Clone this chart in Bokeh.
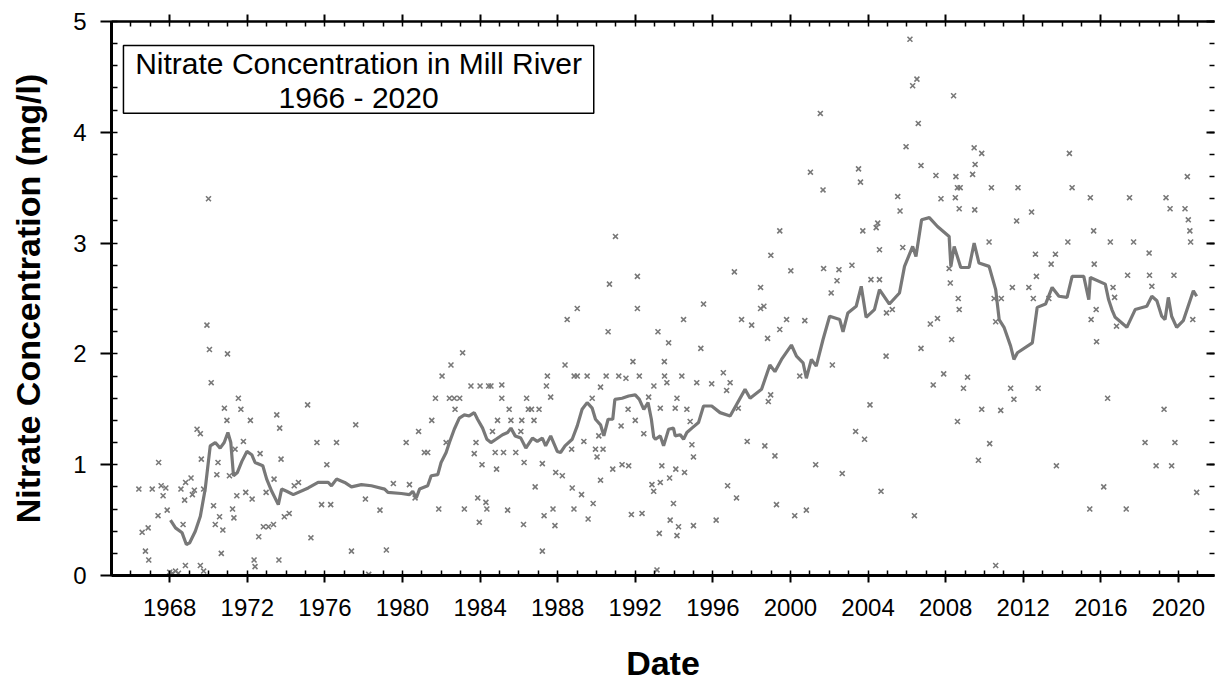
from bokeh.plotting import figure
from bokeh.models import (LinearAxis, SingleIntervalTicker, Range1d, Label, BoxAnnotation,
                          CustomLabelingPolicy)
from bokeh.embed import file_html
from bokeh.resources import INLINE

# ---------------- data ----------------
sample_year = [
    1970.00, 1969.92, 1970.05, 1970.98, 1970.14, 1971.54, 1970.82, 1971.67, 1970.95, 1972.16,
    1973.52, 1973.67, 1969.41, 1969.58, 1971.80, 1967.43, 1969.63, 1970.49, 1972.66, 1973.74,
    1970.43, 1971.08, 1971.37, 1966.41, 1967.10, 1967.56, 1967.80, 1967.66, 1968.58, 1968.82,
    1969.10, 1969.27, 1969.17, 1969.75, 1968.77, 1971.46, 1971.92, 1972.25, 1973.38, 1972.97,
    1974.42, 1974.64, 1970.26, 1967.40, 1967.87, 1968.69, 1970.57, 1970.74, 1970.35, 1971.24,
    1971.31, 1966.58, 1966.89, 1972.59, 1972.83, 1973.09, 1973.35, 1973.91, 1974.16, 1966.75,
    1966.92, 1970.66, 1968.81, 1969.58, 1972.35, 1972.40, 1973.63, 1968.00, 1968.15, 1968.30,
    1968.45, 1969.75, 1978.26,
    1975.11, 1977.59, 1975.59, 1976.60, 1976.10, 1975.83, 1976.30, 1978.09, 1978.84, 1975.28,
    1977.37, 1979.17, 1979.53, 1980.36, 1980.65, 1980.19, 1980.83, 1981.13, 1981.30, 1981.51,
    1981.70, 1982.04, 1982.50, 1983.10, 1982.42, 1982.67, 1982.95, 1982.71, 1982.25, 1983.53,
    1984.00, 1984.44, 1983.79, 1983.70, 1984.10, 1981.87, 1983.19, 1983.88, 1984.30, 1984.35,
    1983.96, 1984.64,
    1990.98, 1992.11, 1990.67, 1989.01, 1988.49, 1992.11, 1994.49, 1990.60, 1993.17, 1993.72,
    1988.38, 1991.88, 1993.50, 1987.47, 1989.01, 1989.52, 1988.85, 1990.50, 1991.15, 1991.52,
    1992.21, 1993.51, 1993.63, 1994.40, 1984.56, 1985.12, 1987.42, 1992.96, 1985.12, 1986.40,
    1987.64, 1990.21, 1989.78, 1992.69, 1993.29, 1994.06, 1994.15, 1985.50, 1986.49, 1986.65,
    1987.04, 1991.63, 1984.90, 1985.59, 1986.15, 1986.78, 1986.10, 1992.00, 1991.27, 1992.44,
    1989.35, 1988.72, 1990.12, 1984.78, 1985.21, 1985.84, 1989.95, 1990.34, 1990.03, 1986.27,
    1987.21, 1984.85, 1987.90, 1988.24, 1990.84, 1991.32, 1991.66, 1993.37, 1994.09, 1994.54,
    1993.77, 1986.84, 1988.75, 1989.23, 1990.21, 1992.86, 1993.29, 1992.95, 1989.83, 1993.97,
    1985.42, 1987.76, 1988.84, 1987.30, 1989.57, 1991.80, 1992.35, 1993.80, 1994.23, 1994.15,
    1993.24, 1986.24, 1987.86, 1987.21, 1993.12,
    2001.54, 2001.03, 2001.68, 2003.51, 2003.61, 1999.45, 2004.42, 2004.50, 2003.73, 2004.59,
    1998.99, 1997.11, 2000.02, 2001.71, 2002.50, 2003.17, 2002.40, 2002.10, 1998.46, 1995.52,
    1998.46, 1998.63, 1997.48, 1998.00, 1999.80, 1999.45, 2000.74, 1998.82, 1995.38, 2002.16,
    1996.54, 1995.17, 1995.94, 1996.89, 1996.71, 2000.48, 1998.98, 1998.86, 1994.66, 1994.83,
    1994.92, 1995.00, 1997.31, 2004.10, 1997.77, 1998.68, 1999.20, 2003.36, 2003.82, 2001.30,
    2002.67, 1996.76, 1997.22, 2004.67, 1999.28, 2000.22, 2000.82, 1995.00, 1996.17,
    2006.16, 2006.52, 2006.30, 2008.41, 2006.59, 2005.96, 2009.47, 2009.86, 2014.38, 2006.73,
    2007.50, 2008.53, 2009.39, 2009.52, 2008.61, 2008.75, 2010.36, 2011.73, 2014.52, 2005.53,
    2005.65, 2007.76, 2008.50, 2008.70, 2009.50, 2012.43, 2011.66, 2005.79, 2010.24, 2014.30,
    2012.63, 2013.66, 2013.44, 2012.68, 2004.59, 2004.15, 2008.18, 2008.24, 2011.44, 2012.29,
    2008.65, 2008.70, 2010.50, 2010.87, 2012.52, 2013.32, 2005.25, 2004.95, 2010.58, 2007.21,
    2007.58, 2006.73, 2004.93, 2008.31, 2007.90, 2009.13, 2008.92, 2007.36, 2011.35, 2012.77,
    2011.52, 2009.86, 2010.84, 2008.61, 2010.27, 2009.69, 2013.71, 2006.39, 2010.58,
    2015.46, 2017.48, 2019.36, 2019.57, 2020.34, 2020.46, 2020.51, 2020.59, 2020.63, 2015.63,
    2016.49, 2017.69, 2018.49, 2015.66, 2017.38, 2018.51, 2019.77, 2018.63, 2016.63, 2016.71,
    2015.76, 2015.50, 2020.74, 2016.81, 2015.78, 2016.35, 2019.26, 2018.28, 2019.82, 2018.85,
    2019.65, 2016.15, 2015.43, 2017.31, 2020.94,
]
sample_value = [
    3.40, 2.26, 2.04, 2.00, 1.74, 1.60, 1.51, 1.50, 1.40, 1.40,
    1.45, 1.33, 1.32, 1.28, 1.21, 1.02, 1.05, 1.02, 1.10, 1.05,
    0.91, 0.90, 1.14, 0.78, 0.78, 0.81, 0.79, 0.72, 0.78, 0.84,
    0.88, 0.77, 0.73, 0.78, 0.68, 0.72, 0.75, 0.69, 0.87, 0.75,
    0.81, 0.84, 0.63, 0.54, 0.59, 0.46, 0.53, 0.41, 0.46, 0.60,
    0.52, 0.39, 0.43, 0.35, 0.44, 0.44, 0.46, 0.53, 0.56, 0.22,
    0.14, 0.20, 0.09, 0.09, 0.14, 0.08, 0.14, 0.03, 0.02, 0.04,
    0.02, 0.04, 0.01,
    1.54, 1.36, 1.20, 1.20, 1.00, 0.64, 0.64, 0.69, 0.59, 0.34,
    0.22, 0.23, 0.83, 0.82, 0.70, 1.20, 1.30, 1.11, 1.11, 1.40,
    1.60, 1.80, 1.90, 2.01, 1.60, 1.60, 1.60, 1.50, 1.20, 1.71,
    1.71, 1.71, 1.20, 1.10, 1.00, 0.60, 0.60, 0.70, 0.66, 0.60,
    0.48, 1.30,
    3.06, 2.70, 2.63, 2.41, 2.31, 2.41, 2.31, 2.20, 2.20, 2.10,
    1.90, 1.93, 1.93, 1.80, 1.80, 1.80, 1.80, 1.80, 1.80, 1.78,
    1.80, 1.80, 1.74, 1.80, 1.71, 1.72, 1.71, 1.71, 1.60, 1.60,
    1.61, 1.70, 1.60, 1.61, 1.51, 1.51, 1.60, 1.50, 1.50, 1.50,
    1.50, 1.50, 1.40, 1.40, 1.40, 1.40, 1.30, 1.40, 1.35, 1.28,
    1.21, 1.14, 1.26, 1.11, 1.11, 1.11, 1.14, 1.14, 1.07, 1.02,
    1.01, 0.96, 0.93, 0.90, 0.96, 1.00, 0.99, 0.99, 0.96, 0.93,
    0.88, 0.80, 0.79, 0.73, 0.86, 0.82, 0.84, 0.76, 0.65, 0.65,
    0.59, 0.60, 0.60, 0.54, 0.51, 0.55, 0.56, 0.50, 0.44, 0.36,
    0.38, 0.46, 0.45, 0.22, 0.05,
    4.17, 3.64, 3.48, 3.67, 3.55, 3.11, 3.14, 3.18, 3.11, 2.94,
    2.89, 2.74, 2.75, 2.77, 2.76, 2.80, 2.66, 2.55, 2.60, 2.45,
    2.41, 2.43, 2.31, 2.26, 2.31, 2.22, 2.30, 2.14, 2.05, 1.90,
    1.83, 1.74, 1.73, 1.74, 1.67, 1.80, 1.63, 1.57, 1.50, 1.39,
    1.18, 1.07, 1.51, 1.54, 1.21, 1.17, 1.08, 1.30, 1.23, 1.00,
    0.92, 0.81, 0.70, 0.76, 0.64, 0.54, 0.59, 0.45, 0.50,
    4.84, 4.48, 4.42, 4.33, 4.08, 3.87, 3.86, 3.81, 3.81, 3.70,
    3.61, 3.60, 3.62, 3.71, 3.50, 3.50, 3.50, 3.50, 3.50, 3.42,
    3.29, 3.40, 3.41, 3.31, 3.30, 3.28, 3.20, 2.96, 3.01, 3.01,
    2.90, 2.90, 2.81, 2.70, 2.67, 2.67, 2.77, 2.64, 2.60, 2.60,
    2.50, 2.40, 2.50, 2.50, 2.50, 2.50, 2.40, 2.37, 2.29, 2.27,
    2.32, 2.05, 1.98, 2.13, 1.82, 1.79, 1.69, 1.72, 1.69, 1.69,
    1.59, 1.50, 1.49, 1.39, 1.19, 1.04, 0.99, 0.54, 0.09,
    3.41, 3.41, 3.41, 3.31, 3.31, 3.60, 3.21, 3.11, 3.01, 3.11,
    3.01, 3.01, 2.91, 2.81, 2.71, 2.71, 2.71, 2.61, 2.60, 2.51,
    2.40, 2.31, 2.31, 2.25, 2.11, 1.60, 1.50, 1.20, 1.20, 0.99,
    0.99, 0.80, 0.60, 0.60, 0.75,
]

avg_year = [
    1968.04, 1968.30, 1968.64, 1968.86, 1969.03, 1969.32, 1969.58, 1969.83, 1969.97, 1970.09,
    1970.35, 1970.60, 1970.81, 1971.00, 1971.15, 1971.29, 1971.49, 1971.72, 1971.98, 1972.23,
    1972.40, 1972.80, 1973.00, 1973.26, 1973.60, 1973.77, 1974.03, 1974.37, 1975.14, 1975.65,
    1976.17, 1976.34, 1976.60, 1977.02, 1977.37, 1977.88, 1978.40, 1979.08, 1979.25, 1979.94,
    1980.36, 1980.53, 1980.71, 1980.88, 1981.30, 1981.48, 1981.82, 1981.99, 1982.25, 1982.42,
    1982.67, 1982.93, 1983.19, 1983.44, 1983.70, 1983.87, 1984.13, 1984.35, 1984.56, 1984.82,
    1985.16, 1985.42, 1985.59, 1985.81, 1986.10, 1986.36, 1986.70, 1986.95, 1987.21, 1987.38,
    1987.64, 1987.98, 1988.15, 1988.38, 1988.75, 1989.01, 1989.26, 1989.52, 1989.78, 1989.95,
    1990.21, 1990.38, 1990.60, 1990.84, 1990.95, 1991.32, 1991.66, 1992.00, 1992.21, 1992.44,
    1992.66, 1992.83, 1992.95, 1993.04, 1993.29, 1993.46, 1993.72, 1993.97, 1994.06, 1994.32,
    1994.49, 1994.66, 1994.92, 1995.26, 1995.52, 1995.94, 1996.37, 1996.89, 1997.18, 1997.66,
    1997.92, 1998.51, 1998.94, 1999.20, 1999.54, 2000.05, 2000.31, 2000.65, 2000.82, 2001.08,
    2001.33, 2001.68, 2002.02, 2002.54, 2002.71, 2002.96, 2003.39, 2003.65, 2003.90, 2004.33,
    2004.59, 2005.10, 2005.62, 2005.88, 2006.30, 2006.47, 2006.76, 2007.16, 2007.58, 2008.18,
    2008.27, 2008.44, 2008.78, 2009.21, 2009.47, 2009.72, 2010.24, 2010.58, 2010.76, 2011.01,
    2011.35, 2011.52, 2011.70, 2012.47, 2012.72, 2013.15, 2013.49, 2013.84, 2014.26, 2014.52,
    2015.12, 2015.38, 2015.46, 2016.23, 2016.40, 2016.57, 2016.74, 2017.34, 2017.77, 2018.37,
    2018.63, 2018.89, 2019.14, 2019.31, 2019.48, 2019.65, 2019.91, 2020.25, 2020.77, 2020.94,
]
avg_value = [
    0.50, 0.43, 0.385, 0.28, 0.295, 0.40, 0.535, 0.78, 0.99, 1.17,
    1.20, 1.15, 1.20, 1.29, 1.20, 0.90, 0.93, 1.03, 1.12, 1.09,
    1.02, 0.99, 0.87, 0.76, 0.64, 0.78, 0.76, 0.73, 0.79, 0.84,
    0.84, 0.81, 0.87, 0.84, 0.80, 0.82, 0.81, 0.78, 0.75, 0.74,
    0.73, 0.76, 0.70, 0.78, 0.81, 0.90, 0.91, 1.02, 1.11, 1.20,
    1.32, 1.42, 1.45, 1.44, 1.47, 1.41, 1.33, 1.23, 1.20, 1.23,
    1.27, 1.29, 1.33, 1.26, 1.24, 1.15, 1.24, 1.21, 1.24, 1.17,
    1.26, 1.12, 1.11, 1.17, 1.23, 1.35, 1.50, 1.56, 1.51, 1.41,
    1.36, 1.26, 1.41, 1.41, 1.59, 1.60, 1.62, 1.63, 1.59, 1.50,
    1.56, 1.41, 1.25, 1.23, 1.26, 1.17, 1.32, 1.33, 1.26, 1.27,
    1.23, 1.29, 1.33, 1.38, 1.53, 1.53, 1.47, 1.44, 1.53, 1.68,
    1.60, 1.68, 1.90, 1.84, 1.95, 2.08, 1.98, 1.92, 1.78, 1.95,
    1.89, 2.13, 2.34, 2.31, 2.20, 2.37, 2.43, 2.61, 2.33, 2.40,
    2.58, 2.45, 2.55, 2.79, 2.97, 2.88, 3.21, 3.23, 3.15, 3.06,
    2.79, 2.97, 2.78, 2.78, 3.00, 2.82, 2.79, 2.58, 2.31, 2.24,
    2.07, 1.95, 2.01, 2.10, 2.42, 2.45, 2.60, 2.52, 2.51, 2.70,
    2.70, 2.49, 2.69, 2.63, 2.49, 2.40, 2.33, 2.24, 2.40, 2.43,
    2.52, 2.48, 2.34, 2.31, 2.51, 2.34, 2.24, 2.30, 2.57, 2.52,
]

title_lines = ["Nitrate Concentration in Mill River", "1966 - 2020"]
x_title = "Date"
y_title = "Nitrate Concentration (mg/l)"

# ---------------- layout constants (pixels) ----------------
W, H = 1218, 684
FL, FR, FT, FB = 111, 1218, 21, 576     # frame edges
X0, X1 = 1965.0, 2021.86
Y0, Y1 = 0.0, 5.0

def px_x(px):
    return X0 + (px - FL) / (FR - FL) * (X1 - X0)

def px_y(py):
    return Y0 + (FB - py) / (FB - FT) * (Y1 - Y0)

FONT = "Liberation Sans"
GRAY = "#787878"

p = figure(width=W, height=H, x_range=Range1d(X0, X1), y_range=Range1d(Y0, Y1),
           output_backend="svg", toolbar_location=None,
           min_border_left=FL, min_border_right=W - FR, min_border_top=FT,
           min_border_bottom=H - FB)
p.outline_line_color = None
p.grid.visible = False
p.background_fill_color = "white"
p.border_fill_color = "white"

hide_labels = """
try { for (const i of Array.from(indices)) { indices.unset(i) } } catch (e) {}
return indices
"""

def style_common(ax, ticker):
    ax.ticker = ticker
    ax.axis_line_color = "black"
    ax.major_tick_line_color = "black"
    ax.minor_tick_line_color = "black"
    ax.major_tick_line_width = 2
    ax.minor_tick_line_width = 1.5
    ax.major_label_text_font = FONT
    ax.major_label_text_color = "black"
    ax.axis_label_text_font = FONT
    ax.axis_label_text_font_style = "bold"
    ax.axis_label_text_color = "black"
    ax.axis_label_text_font_size = "34px"

xb = p.xaxis[0]
style_common(xb, SingleIntervalTicker(interval=4, num_minor_ticks=4))
xb.axis_line_width = 3
xb.major_tick_out = 7
xb.major_tick_in = 0
xb.minor_tick_out = 0
xb.minor_tick_in = 5
xb.major_label_text_font_size = "24px"
xb.major_label_standoff = 16
xb.axis_label = x_title
xb.axis_label_standoff = 25

yl = p.yaxis[0]
style_common(yl, SingleIntervalTicker(interval=1, num_minor_ticks=5))
yl.axis_line_width = 3
yl.major_tick_out = 11
yl.major_tick_in = 0
yl.minor_tick_out = 1
yl.minor_tick_in = 6
yl.major_label_text_font_size = "24px"
yl.major_label_standoff = 14
yl.axis_label = y_title
yl.axis_label_standoff = 23

xt = LinearAxis()
style_common(xt, SingleIntervalTicker(interval=4, num_minor_ticks=4))
xt.axis_line_width = 2.5
xt.major_tick_out = 7
xt.major_tick_in = 0
xt.minor_tick_out = 0
xt.minor_tick_in = 5
xt.major_label_text_font_size = "1px"
xt.major_label_standoff = 0
xt.major_label_policy = CustomLabelingPolicy(code=hide_labels)
p.add_layout(xt, "above")

yr = LinearAxis()
style_common(yr, SingleIntervalTicker(interval=1, num_minor_ticks=5))
yr.axis_line_color = None
yr.major_tick_out = 0
yr.major_tick_in = 8
yr.minor_tick_out = 0
yr.minor_tick_in = 5
yr.major_label_text_font_size = "1px"
yr.major_label_standoff = 0
yr.major_label_policy = CustomLabelingPolicy(code=hide_labels)
p.add_layout(yr, "right")

# data marks
p.line(avg_year, avg_value, line_color=GRAY, line_width=3.2)
p.scatter(sample_year, sample_value, marker="x", size=7, line_color=GRAY, line_width=1.6)

# title box
p.add_layout(BoxAnnotation(left=px_x(123), right=px_x(595), top=px_y(45), bottom=px_y(113),
                           fill_color="white", fill_alpha=1.0, line_color="black",
                           line_width=1.5, line_alpha=1.0))
p.add_layout(Label(x=px_x(359), y=px_y(63), text=title_lines[0], text_align="center",
                   text_baseline="middle", text_font=FONT, text_font_size="30px",
                   text_color="black"))
p.add_layout(Label(x=px_x(359), y=px_y(97), text=title_lines[1], text_align="center",
                   text_baseline="middle", text_font=FONT, text_font_size="30px",
                   text_color="black"))

open("out.html", "w").write(file_html(p, INLINE))
